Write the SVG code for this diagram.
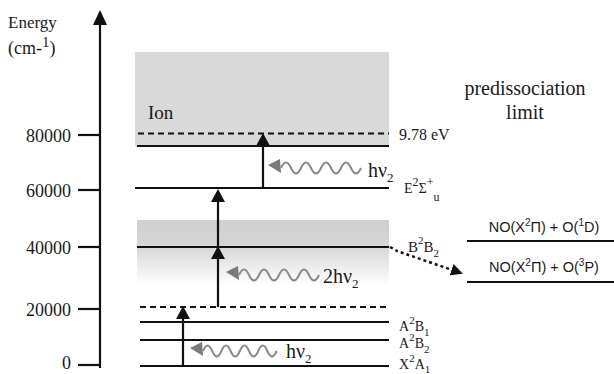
<svg xmlns="http://www.w3.org/2000/svg" width="614" height="374" viewBox="0 0 614 374">
<style>
.serif{font-family:"Liberation Serif","Times New Roman",serif;fill:#1a1a1a}
.sans{font-family:"Liberation Sans",Arial,sans-serif;fill:#1a1a1a}
.lvl{stroke:#111;stroke-width:2;fill:none}
.dash{stroke:#111;stroke-width:2;stroke-dasharray:6,4;fill:none}
.ax{stroke:#111;stroke-width:2.2;fill:none}
.arr{stroke:#111;stroke-width:2.2;fill:none}
.head{fill:#111}
.wave{stroke:#8a8a8a;stroke-width:2;fill:none}
.whead{fill:#7a7a7a}
.tick{font-size:18px;text-anchor:end}
.st{font-size:14px}
.sup{font-size:11px}
.hv{font-size:20px}
.sub{font-size:13px}
.no{font-size:14.5px;text-anchor:middle}
</style>
<defs>
<linearGradient id="bgrad" x1="0" y1="0" x2="0" y2="1">
<stop offset="0" stop-color="#cfcfcf"/>
<stop offset="0.4" stop-color="#d6d6d6"/>
<stop offset="1" stop-color="#ffffff"/>
</linearGradient>
<marker id="dh" markerWidth="12" markerHeight="12" refX="10" refY="6" orient="auto" markerUnits="userSpaceOnUse">
<path d="M0,0 L12,6 L0,12 Z" fill="#111"/>
</marker>
</defs>

<g id="axis">
<line class="ax" x1="100" y1="368" x2="100" y2="24"/>
<path class="head" d="M100,10 L93,25 L107,25 Z"/>
<text class="serif" x="8" y="28" font-size="17">Energy</text>
<text class="serif" x="8" y="54" font-size="18">(cm-<tspan font-size="15" dy="-7">1</tspan><tspan dy="7">)</tspan></text>
<line class="ax" x1="78" y1="135" x2="100" y2="135"/>
<line class="ax" x1="78" y1="190" x2="100" y2="190"/>
<line class="ax" x1="78" y1="247" x2="100" y2="247"/>
<line class="ax" x1="78" y1="309" x2="100" y2="309"/>
<line class="ax" x1="78" y1="365" x2="100" y2="365"/>
<text class="serif tick" x="71" y="142">80000</text>
<text class="serif tick" x="71" y="197">60000</text>
<text class="serif tick" x="71" y="254">40000</text>
<text class="serif tick" x="71" y="316">20000</text>
<text class="serif tick" x="71" y="369">0</text>
</g>

<g id="ion">
<rect x="135" y="52" width="254" height="94" fill="#d9d9d9"/>
<text class="serif" x="148" y="119" font-size="19">Ion</text>
<line class="dash" x1="138" y1="133.5" x2="389" y2="133.5"/>
<line class="lvl" x1="137" y1="146" x2="389" y2="146" stroke-width="2.5"/>
<text class="serif" x="399" y="140" font-size="16">9.78 eV</text>
</g>

<g id="E-state">
<line class="lvl" x1="135" y1="188" x2="389" y2="188"/>
<text class="serif" x="404" y="193" font-size="14">E<tspan font-size="12" dy="-7">2</tspan><tspan dy="7" font-size="14">Σ</tspan><tspan font-size="12" dy="-7">+</tspan><tspan font-size="12" dy="15">u</tspan></text>
</g>

<g id="B-state">
<rect x="137" y="220" width="252" height="65" fill="url(#bgrad)"/>
<line class="lvl" x1="137" y1="247" x2="389" y2="247"/>
<text class="serif" x="408" y="252" font-size="15">B<tspan class="sup" dy="-8">2</tspan><tspan dy="8" font-size="15">B</tspan><tspan class="sup" dy="5">2</tspan></text>
</g>

<g id="virtual">
<line class="dash" x1="140" y1="307" x2="389" y2="307" stroke-dasharray="8,5"/>
</g>

<g id="A2B1">
<line class="lvl" x1="140" y1="322" x2="389" y2="322"/>
<text class="serif st" x="399" y="331">A<tspan class="sup" dy="-7">2</tspan><tspan dy="7">B</tspan><tspan class="sup" dy="5">1</tspan></text>
</g>
<g id="A2B2">
<line class="lvl" x1="140" y1="340" x2="389" y2="340"/>
<text class="serif st" x="399" y="348">A<tspan class="sup" dy="-7">2</tspan><tspan dy="7">B</tspan><tspan class="sup" dy="5">2</tspan></text>
</g>
<g id="X2A1">
<line class="lvl" x1="140" y1="366" x2="389" y2="366"/>
<text class="serif st" x="399" y="369">X<tspan class="sup" dy="-7">2</tspan><tspan dy="7">A</tspan><tspan class="sup" dy="4">1</tspan></text>
</g>

<g id="limit">
<text class="serif" x="525" y="95" font-size="20" text-anchor="middle">predissociation</text>
<text class="serif" x="525" y="119" font-size="20" text-anchor="middle">limit</text>
</g>

<g id="NO-O1D">
<line class="lvl" x1="467" y1="241" x2="614" y2="241" stroke-width="1.6"/>
<text class="sans no" x="544" y="232">NO(X<tspan font-size="10" dy="-6">2</tspan><tspan dy="6">Π) + O(</tspan><tspan font-size="10" dy="-6">1</tspan><tspan dy="6">D)</tspan></text>
</g>
<g id="NO-O3P">
<line class="lvl" x1="467" y1="282" x2="614" y2="282" stroke-width="1.6"/>
<text class="sans no" x="544" y="272">NO(X<tspan font-size="10" dy="-6">2</tspan><tspan dy="6">Π) + O(</tspan><tspan font-size="10" dy="-6">3</tspan><tspan dy="6">P)</tspan></text>
</g>

<g id="connectors">
<line class="arr" x1="183" y1="366" x2="183" y2="318"/>
<path class="head" d="M183,306 L176,319 L190,319 Z"/>
<line class="arr" x1="218" y1="307" x2="218" y2="200"/>
<path class="head" d="M218,246 L211,259 L225,259 Z"/>
<path class="head" d="M218,189 L211,202 L225,202 Z"/>
<line class="arr" x1="263" y1="188" x2="263" y2="145"/>
<path class="head" d="M263,133 L256,146 L270,146 Z"/>

<path class="wave" d="M281,168 q5,-11 10,0 t10,0 t10,0 t10,0 t10,0 t10,0 t10,0 t10,0"/>
<path class="whead" d="M268,165 L280,159 L281,173 Z"/>
<path class="wave" d="M239,275 q5,-11 10,0 t10,0 t10,0 t10,0 t10,0 t10,0 t10,0 t10,0"/>
<path class="whead" d="M226,272 L238,266 L239,280 Z"/>
<path class="wave" d="M203,351 q4.6,-11 9.2,0 t9.2,0 t9.2,0 t9.2,0 t9.2,0 t9.2,0 t9.2,0 t9.2,0"/>
<path class="whead" d="M190,348 L202,342 L203,356 Z"/>

<path d="M390,247 Q394,249 397,251 L461,273" fill="none" stroke="#111" stroke-width="2.5" stroke-dasharray="3,3" marker-end="url(#dh)"/>
</g>

<g id="photon-labels">
<text class="serif hv" x="368" y="177">hν<tspan class="sub" dy="5">2</tspan></text>
<text class="serif hv" x="323" y="283">2hν<tspan class="sub" dy="5">2</tspan></text>
<text class="serif hv" x="286" y="358">hν<tspan class="sub" dy="5">2</tspan></text>
</g>
</svg>
